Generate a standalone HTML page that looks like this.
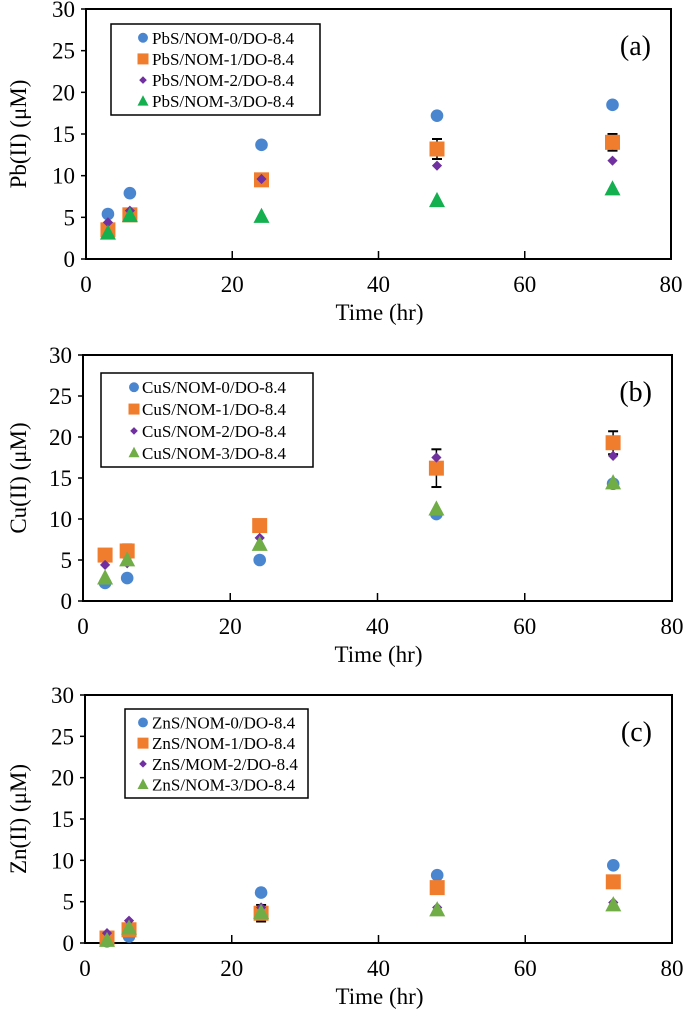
<!DOCTYPE html>
<html><head><meta charset="utf-8"><style>
body{margin:0;background:#fff;}
svg{display:block;font-family:"Liberation Serif",serif;}
</style></head><body>
<svg id="c" width="685" height="1023"></svg>
<script>
const times=[3,6,24,48,72];
const xTicks=[0,20,40,60,80];
const yTicks=[0,5,10,15,20,25,30];
// Panel a (Pb)
const pb0=[5.4,7.9,13.7,17.2,18.5];
const pb1=[3.5,5.3,9.5,13.2,14.0];
const pb2=[4.4,5.8,9.6,11.2,11.8];
const pb3=[3.1,5.2,5.1,7.0,8.4];
const pb1err=[0,0,0,1.2,1.0];
// Panel b (Cu)
const cu0=[2.2,2.8,5.0,10.6,14.3];
const cu1=[5.6,6.1,9.2,16.2,19.3];
const cu2=[4.4,4.6,7.7,17.5,17.7];
const cu3=[2.8,5.0,6.9,11.2,14.4];
const cu1err=[0,0.8,0,2.3,1.4];
// Panel c (Zn)
const zn0=[0.2,0.8,6.1,8.2,9.4];
const zn1=[0.6,1.6,3.6,6.7,7.4];
const zn2=[1.2,2.7,4.3,4.3,4.9];
const zn3=[0.3,1.8,3.7,4.0,4.6];
const zn1err=[0,0,1.0,0,0];

const NS="http://www.w3.org/2000/svg";
const svg=document.getElementById('c');
function mk(tag,attrs,parent,text){const e=document.createElementNS(NS,tag);for(const k in attrs)e.setAttribute(k,attrs[k]);if(text!==undefined)e.textContent=text;(parent||svg).appendChild(e);return e;}

const panels=[
 {id:'a',L:86,R:671,T:9,B:259,yt:'Pb(II) (μM)',lab:'(a)',leg:[111,24,320,115],mo:32,to:41,names:['PbS/NOM-0/DO-8.4','PbS/NOM-1/DO-8.4','PbS/NOM-2/DO-8.4','PbS/NOM-3/DO-8.4'],s:[pb0,pb1,pb2,pb3],err:pb1err,green:'#14b050'},
 {id:'b',L:83,R:672,T:355,B:601,yt:'Cu(II) (μM)',lab:'(b)',leg:[101,373,313,467],mo:33,to:41,names:['CuS/NOM-0/DO-8.4','CuS/NOM-1/DO-8.4','CuS/NOM-2/DO-8.4','CuS/NOM-3/DO-8.4'],s:[cu0,cu1,cu2,cu3],err:cu1err,green:'#70ad47'},
 {id:'c',L:85,R:672,T:695,B:943,yt:'Zn(II) (μM)',lab:'(c)',leg:[125,709,308,798],mo:18,to:27,names:['ZnS/NOM-0/DO-8.4','ZnS/NOM-1/DO-8.4','ZnS/MOM-2/DO-8.4','ZnS/NOM-3/DO-8.4'],s:[zn0,zn1,zn2,zn3],err:zn1err,green:'#70ad47'}
];
const colors=['#4a86d0','#f07d2e','#7030a0'];
function marker(g,k,cx,cy,col,sz){
  let e;
  if(k===0)e=mk('circle',{cx:cx,cy:cy,r:sz*0.9,fill:col},g);
  else if(k===1)e=mk('rect',{x:cx-sz,y:cy-sz,width:2*sz,height:2*sz,fill:col},g);
  else if(k===2)e=mk('polygon',{points:`${cx},${cy-sz*0.85} ${cx+sz*0.85},${cy} ${cx},${cy+sz*0.85} ${cx-sz*0.85},${cy}`,fill:col},g);
  else e=mk('polygon',{points:`${cx},${cy-sz*1.1} ${cx+sz},${cy+sz*0.8} ${cx-sz},${cy+sz*0.8}`,fill:col},g);
  return e;
}
panels.forEach(p=>{
  const g=mk('g',{});
  
  
  const xs=v=>p.L+(v-0)/80*(p.R-p.L);
  const ys=v=>p.B-v/30*(p.B-p.T);
  const frame=mk('rect',{x:p.L,y:p.T,width:p.R-p.L,height:p.B-p.T,fill:'none',stroke:'#000','stroke-width':2},g);
  
  
  yTicks.forEach(t=>{
    mk('line',{x1:p.L-5,x2:p.L,y1:ys(t),y2:ys(t),stroke:'#000','stroke-width':1.5},g);
    const tl=mk('text',{x:p.L-11,y:ys(t)+8,'text-anchor':'end','font-size':23},g,String(t));
    
    
  });
  xTicks.forEach(t=>{
    if(t>0&&t<80)mk('line',{x1:xs(t),x2:xs(t),y1:p.B,y2:p.B-8,stroke:'#000','stroke-width':1.5},g);
    const tl=mk('text',{x:xs(t),y:p.B+33,'text-anchor':'middle','font-size':23},g,String(t));
    
    
  });
  const xt=mk('text',{x:(p.L+p.R)/2+1,y:p.B+61,'text-anchor':'middle','font-size':23},g,'Time (hr)');
  
  
  const cy=(p.T+p.B)/2;
  const yt=mk('text',{x:26,y:cy,'text-anchor':'middle','font-size':23,transform:`rotate(-90 26 ${cy})`},g,p.yt);
  
  
  const lb=mk('text',{x:p.R-20,y:p.T+46,'text-anchor':'end','font-size':28},g,p.lab);
  
  
  const cols=[colors[0],colors[1],colors[2],p.green];
  const sizes=[7,7.5,6,8];
  [0,1,2,3].forEach(k=>{
    const sg=mk('g',{},g);
    
    
    p.s[k].forEach((v,i)=>{
      if(k===1&&p.err[i]>0){
        const e1=ys(v+p.err[i]),e2=ys(v-p.err[i]),x=xs(times[i]);
        mk('line',{x1:x,x2:x,y1:e1,y2:e2,stroke:'#000','stroke-width':1.5},sg);
        mk('line',{x1:x-5,x2:x+5,y1:e1,y2:e1,stroke:'#000','stroke-width':2},sg);
        mk('line',{x1:x-5,x2:x+5,y1:e2,y2:e2,stroke:'#000','stroke-width':2},sg);
      }
      const m=marker(sg,k,xs(times[i]),ys(v),cols[k],sizes[k]);
      
      
    });
  });
  const [x1,y1,x2,y2]=p.leg;
  const lg=mk('g',{},g);
  
  
  mk('rect',{x:x1,y:y1,width:x2-x1,height:y2-y1,fill:'#fff',stroke:'#000','stroke-width':1.5},lg);
  const step=(y2-y1)/4.3;
  p.names.forEach((n,k)=>{
    const yy=y1+step*(k+0.65);
    marker(lg,k,x1+p.mo,yy,cols[k],k===2?4.5:5.5);
    const t=mk('text',{x:x1+p.to,y:yy+6,'font-size':17},lg,n);
    
    
  });
});
</script>
</body></html>
